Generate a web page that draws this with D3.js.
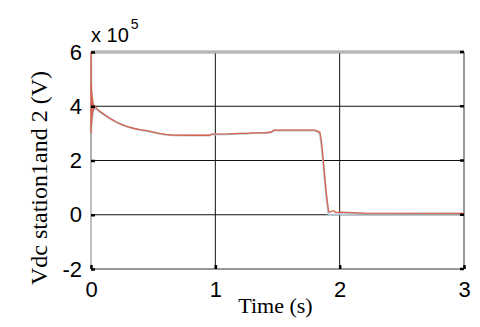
<!DOCTYPE html>
<html>
<head>
<meta charset="utf-8">
<script src="https://cdn.jsdelivr.net/npm/d3@7"></script>
<style>
  body { margin: 0; background: #fff; }
  svg { display: block; }
</style>
</head>
<body>
<div id="chart"></div>
<script>
// values in units of 1e5 V
const xTicks = [0, 1, 2, 3];
const yTicks = [-2, 0, 2, 4, 6];

const time = [0, 0.001, 0.002, 0.004, 0.006, 0.008, 0.010, 0.013, 0.016, 0.02, 0.025, 0.03,
  0.04, 0.06, 0.1, 0.15, 0.2, 0.25, 0.3, 0.35, 0.4, 0.45, 0.5, 0.55, 0.6, 0.65, 0.8, 0.95,
  0.97, 1.1, 1.2, 1.25, 1.3, 1.4, 1.45, 1.47, 1.6, 1.8, 1.84, 1.85, 1.86, 1.87, 1.88, 1.89,
  1.9, 1.91, 1.92, 1.95, 1.97, 2.0, 2.2, 3.0];

// station 1 (red)
const vdc1 = [3.0, 6.0, 3.2, 4.8, 3.4, 4.5, 3.6, 4.3, 3.8, 4.1, 3.9, 4.0,
  3.95, 3.85, 3.72, 3.56, 3.43, 3.32, 3.24, 3.18, 3.13, 3.1, 3.05, 3.0, 2.96, 2.94, 2.93, 2.93,
  2.97, 2.98, 3.0, 3.0, 3.02, 3.02, 3.05, 3.12, 3.12, 3.12, 3.05, 2.8, 2.4, 1.9, 1.4, 0.9,
  0.5, 0.15, 0.1, 0.15, 0.08, 0.1, 0.06, 0.05];

// station 2 (light blue, mostly hidden under station 1)
const vdc2 = [2.0, 5.8, 3.0, 4.6, 3.3, 4.4, 3.5, 4.2, 3.7, 4.0, 3.85, 3.95,
  3.92, 3.83, 3.7, 3.55, 3.42, 3.31, 3.23, 3.17, 3.12, 3.09, 3.04, 2.99, 2.95, 2.93, 2.92, 2.92,
  2.96, 2.97, 2.99, 2.99, 3.01, 3.01, 3.04, 3.11, 3.11, 3.11, 3.0, 2.7, 2.3, 1.8, 1.3, 0.8,
  0.4, 0.0, 0.0, 0.0, 0.0, 0.02, 0.04, 0.04];

const width = 480, height = 327;
const margin = {top: 52, right: 16, bottom: 58, left: 91};

const svg = d3.select("#chart").append("svg")
  .attr("width", width)
  .attr("height", height);

svg.append("rect").attr("width", width).attr("height", height).attr("fill", "#fff");

const x = d3.scaleLinear().domain([0, 3]).range([margin.left, width - margin.right]);
const y = d3.scaleLinear().domain([-2, 6]).range([height - margin.bottom, margin.top]);

// grid
svg.append("g")
  .selectAll("line")
  .data(xTicks.slice(1, -1))
  .join("line")
  .attr("x1", d => x(d)).attr("x2", d => x(d))
  .attr("y1", y(6)).attr("y2", y(-2))
  .attr("stroke", "#111").attr("stroke-width", 1);

svg.append("g")
  .selectAll("line")
  .data(yTicks.slice(1, -1))
  .join("line")
  .attr("x1", x(0)).attr("x2", x(3))
  .attr("y1", d => y(d)).attr("y2", d => y(d))
  .attr("stroke", "#111").attr("stroke-width", 1);

// series
const line = (vals) => d3.line()
  .x((d, i) => x(time[i]))
  .y(d => y(d))(vals);

svg.append("path")
  .attr("d", line(vdc2))
  .attr("fill", "none")
  .attr("stroke", "#b4c8d4")
  .attr("stroke-width", 2);

// frame
svg.append("line")
  .attr("x1", x(0)).attr("x2", x(3))
  .attr("y1", y(6)).attr("y2", y(6))
  .attr("stroke", "#999").attr("stroke-width", 3);
svg.append("line")
  .attr("x1", x(0)).attr("x2", x(3))
  .attr("y1", y(6)).attr("y2", y(6))
  .attr("stroke", "#fff").attr("stroke-width", 0.6);
svg.append("line")
  .attr("x1", x(3)).attr("x2", x(3))
  .attr("y1", y(6)).attr("y2", y(-2))
  .attr("stroke", "#777").attr("stroke-width", 1.5);
svg.append("line")
  .attr("x1", x(0)).attr("x2", x(0))
  .attr("y1", y(6)).attr("y2", y(-2))
  .attr("stroke", "#aaa").attr("stroke-width", 1.5);
svg.append("line")
  .attr("x1", x(0)).attr("x2", x(3))
  .attr("y1", y(-2)).attr("y2", y(-2))
  .attr("stroke", "#333").attr("stroke-width", 1.2);

svg.append("path")
  .attr("d", line(vdc1))
  .attr("fill", "none")
  .attr("stroke", "#d9634e")
  .attr("stroke-width", 1.3);

// axes (ticks inside, labels outside)
const xAxis = d3.axisBottom(x).tickValues(xTicks).tickSize(-4).tickPadding(10).tickFormat(d => String(d));
const yAxis = d3.axisLeft(y).tickValues(yTicks).tickSize(-4).tickPadding(9).tickFormat(d => String(d));

const gx = svg.append("g")
  .attr("transform", "translate(0," + y(-2) + ")")
  .call(xAxis);
const gy = svg.append("g")
  .attr("transform", "translate(" + x(0) + ",0)")
  .call(yAxis);

[gx, gy].forEach(g => {
  g.select(".domain").remove();
  g.selectAll(".tick line").attr("stroke", "#000").attr("stroke-width", 2.5);
  g.selectAll(".tick text")
    .attr("fill", "#000")
    .attr("font-family", "Liberation Sans, Arial, sans-serif")
    .attr("font-size", 22);
});
gx.selectAll(".tick text").attr("dy", "0.82em");

// right-side ticks
svg.append("g")
  .selectAll("line")
  .data(yTicks)
  .join("line")
  .attr("x1", x(3) - 4).attr("x2", x(3))
  .attr("y1", d => y(d)).attr("y2", d => y(d))
  .attr("stroke", "#000").attr("stroke-width", 2.5);

// exponent label
const expo = svg.append("text")
  .attr("x", x(0))
  .attr("y", 42)
  .attr("font-family", "Liberation Sans, Arial, sans-serif")
  .attr("font-size", 20)
  .attr("fill", "#000");
expo.append("tspan").text("x 10");
expo.append("tspan").attr("dy", -13).attr("dx", 2).attr("font-size", 14).text("5");

// axis titles
svg.append("text")
  .attr("x", (x(0) + x(3)) / 2 - 2)
  .attr("y", 313)
  .attr("text-anchor", "middle")
  .attr("font-family", "Liberation Serif, Times New Roman, serif")
  .attr("font-size", 22)
  .attr("fill", "#000")
  .text("Time (s)");

svg.append("text")
  .attr("transform", "translate(47," + 178 + ") rotate(-90)")
  .attr("text-anchor", "middle")
  .attr("font-family", "Liberation Serif, Times New Roman, serif")
  .attr("font-size", 24)
  .attr("fill", "#000")
  .text("Vdc station1and 2 (V)");
</script>
</body>
</html>
